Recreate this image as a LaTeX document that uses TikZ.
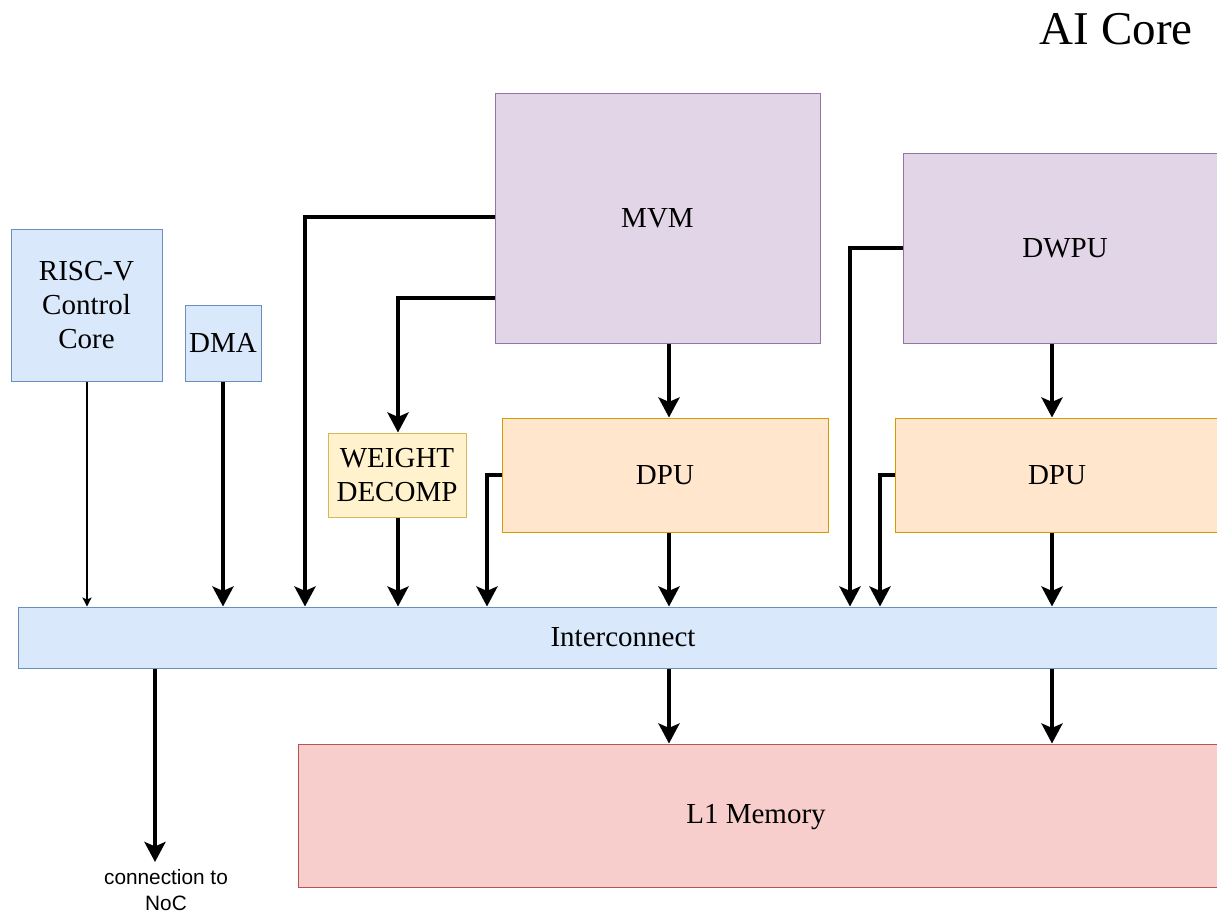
\documentclass[tikz,border=0pt]{standalone}
\usepackage{fontspec}
\setmainfont{Liberation Serif}
\newfontfamily\helv{Liberation Sans}
\usetikzlibrary{arrows.meta}
\definecolor{bluef}{HTML}{DAE8FC}\definecolor{blued}{HTML}{6C8EBF}
\definecolor{purpf}{HTML}{E1D5E7}\definecolor{purpd}{HTML}{9673A6}
\definecolor{yelf}{HTML}{FFF2CC}\definecolor{yeld}{HTML}{D6B656}
\definecolor{oraf}{HTML}{FFE6CC}\definecolor{orad}{HTML}{D79B00}
\definecolor{redf}{HTML}{F8CECC}\definecolor{redd}{HTML}{B85450}
\tikzset{
  blk/.style={draw, line width=0.5pt, inner sep=0pt, align=center,
    font=\fontsize{14.5pt}{17pt}\selectfont},
  blueblk/.style={blk, fill=bluef, draw=blued},
  purpblk/.style={blk, fill=purpf, draw=purpd},
  yelblk/.style={blk, fill=yelf, draw=yeld},
  orablk/.style={blk, fill=oraf, draw=orad},
  redblk/.style={blk, fill=redf, draw=redd},
  arr/.style={line width=2pt, -{Stealth[length=10pt,width=10.5pt,inset=2.2pt]}},
  thinarr/.style={line width=0.65pt, -{Stealth[length=4.5pt,width=4.6pt,inset=1pt]}}
}
\begin{document}
\begin{tikzpicture}[x=0.5pt,y=-0.5pt]
\useasboundingbox (0,0) rectangle (1217,912);
\clip (0,0) rectangle (1217,912);
\node[anchor=base east, inner sep=0pt, font=\fontsize{23.5pt}{28pt}\selectfont] (title) at (1193,44) {AI Core};
\node[blueblk, minimum width=75.5pt, minimum height=76pt] (risc) at (86.5,305) {RISC-V\\Control\\Core};
\node[blueblk, minimum width=38pt, minimum height=38pt] (dma) at (223,343) {DMA};
\node[purpblk, minimum width=162.5pt, minimum height=125pt] (mvm) at (657.5,218) {MVM};
\node[purpblk, minimum width=162pt, minimum height=95pt] (dwpu) at (1065,248) {DWPU};
\node[yelblk, minimum width=69pt, minimum height=42pt] (wd) at (397,475) {WEIGHT\\DECOMP};
\node[orablk, minimum width=163pt, minimum height=57pt] (dpu1) at (665,475) {DPU};
\node[orablk, minimum width=162pt, minimum height=57pt] (dpu2) at (1057,475) {DPU};
\node[blueblk, minimum width=605pt, minimum height=30.5pt] (inter) at (623,637.5) {Interconnect};
\node[redblk, minimum width=465pt, minimum height=71.5pt] (l1) at (763,815.5) {};
\node[inner sep=0pt, font=\fontsize{14.5pt}{17pt}\selectfont] (l1t) at (756,817) {L1 Memory};
\node[inner sep=0pt, align=center, font=\helv\fontsize{10.4pt}{13pt}\selectfont] (noc) at (166,890) {connection to\\NoC};
\coordinate (c87) at (87,0);
\coordinate (c155) at (155,0);
\coordinate (c305) at (305,0);
\coordinate (c398) at (398,0);
\coordinate (c487) at (487,0);
\coordinate (c669) at (669,0);
\coordinate (c850) at (850,0);
\coordinate (c880) at (880,0);
\coordinate (c1052) at (1052,0);
\coordinate (y217) at (0,217);
\coordinate (y298) at (0,298);
\coordinate (nocend) at (155,862);
\draw[thinarr] (risc.south -| c87) -- (inter.north -| c87);
\draw[arr] (dma.south) -- (dma.south |- inter.north);
\draw[arr] (mvm.west |- y217) -| (c305 |- inter.north);
\draw[arr] (mvm.west |- y298) -| (wd.north -| c398);
\draw[arr] (wd.south -| c398) -- (inter.north -| c398);
\draw[arr] (dpu1.west) -| (c487 |- inter.north);
\draw[arr] (mvm.south -| c669) -- (dpu1.north -| c669);
\draw[arr] (dpu1.south -| c669) -- (inter.north -| c669);
\draw[arr] (dwpu.west) -| (c850 |- inter.north);
\draw[arr] (dpu2.west) -| (c880 |- inter.north);
\draw[arr] (dwpu.south -| c1052) -- (dpu2.north -| c1052);
\draw[arr] (dpu2.south -| c1052) -- (inter.north -| c1052);
\draw[arr] (inter.south -| c669) -- (l1.north -| c669);
\draw[arr] (inter.south -| c1052) -- (l1.north -| c1052);
\draw[arr] (inter.south -| c155) -- (nocend);
\end{tikzpicture}
\end{document}
